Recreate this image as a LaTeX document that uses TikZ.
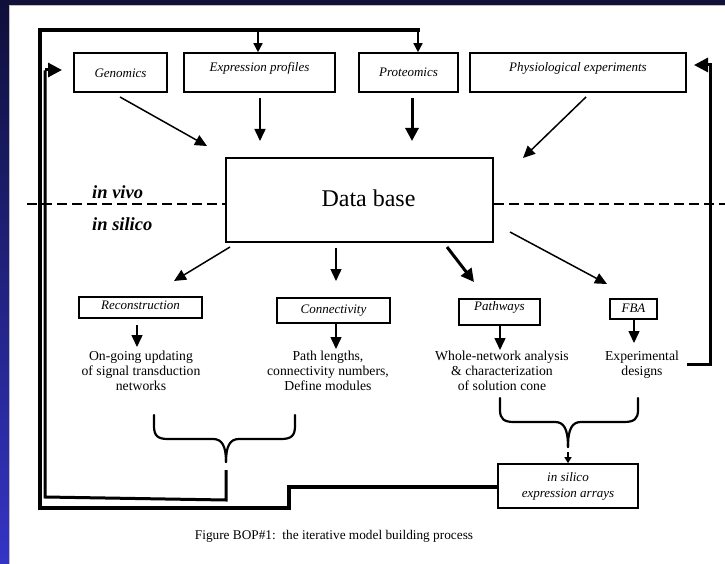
\documentclass[tikz,border=0pt]{standalone}
\usepackage{fontspec}
\setmainfont{Liberation Serif}
\usetikzlibrary{arrows.meta,calc}
\definecolor{navy}{HTML}{11113A}
\definecolor{navytop}{HTML}{0F0F3A}
\definecolor{bluebot}{HTML}{3434C6}
\begin{document}
\begin{tikzpicture}[x=1pt,y=-1pt,
  box/.style={draw, line width=1.6pt, inner sep=0pt, align=center,
    font=\fontsize{13}{15}\selectfont\itshape},
  txt/.style={inner sep=0pt, align=center, anchor=north,
    font=\fontsize{13.7}{15}\selectfont},
  arr/.style={line width=1.5pt, -{Triangle[length=12pt,width=11pt]}},
  bigarr/.style={line width=3pt, -{Triangle[length=13pt,width=13pt]}},
  smallarr/.style={line width=1.5pt, -{Triangle[length=9pt,width=9pt]}},
  tinyarr/.style={line width=1.2pt, -{Triangle[length=6pt,width=7pt]}},
  loopline/.style={line width=3.5pt, line join=miter},
  innerline/.style={line width=3pt, line join=miter},
  loopa/.style={line width=3pt, -{Triangle[length=14pt,width=14pt]}},
  bracel/.style={line width=2.2pt, line cap=round},
  dashline/.style={line width=1.8pt, dash pattern=on 10pt off 5pt},
  sidelbl/.style={anchor=base west, inner sep=0pt,
    font=\fontsize{18.5}{20}\selectfont\bfseries\itshape}
]
\useasboundingbox (0,0) rectangle (725,564);
\fill[white] (0,0) rectangle (725,564);
\shade[top color=navytop, bottom color=bluebot] (0,0) rectangle (9,564);
\fill[navy] (9,0) rectangle (725,5);
\draw[gray!50, line width=0.8pt] (9.5,564) -- (9.5,5.5) -- (725,5.5);

% top boxes
\node[box, minimum width=93pt, minimum height=39pt, text height=11pt, text depth=0pt] (gen) at (120.5,72.5) {Genomics};
\node[box, minimum width=151pt, minimum height=39pt, text height=8pt, text depth=9pt] (exp) at (259.5,72.5) {Expression profiles};
\node[box, minimum width=99pt, minimum height=39pt, text height=10pt, text depth=1pt] (prot) at (408.5,72.5) {Proteomics};
\node[box, minimum width=216pt, minimum height=39pt, text height=8pt, text depth=9pt] (phys) at (578,72.5) {Physiological experiments};

% data base
\node[draw, line width=1.6pt, inner sep=0pt, minimum width=267pt, minimum height=84pt,
  text height=16pt, text depth=2pt, font=\fontsize{24}{28}\selectfont] (db) at (359.5,200) {\hspace{18pt}Data base};

% dashed divider
\draw[dashline] (27,204) -- (db.west |- 0,204);
\draw[dashline] (db.east |- 0,204) -- (725,204);
\node[sidelbl] (vivo) at (92,198) {in vivo};
\node[sidelbl] (silico) at (92,230) {in silico};

% arrows into data base
\draw[arr] (120,97) -- (207,146);
\draw[arr] (260,98) -- (260,141);
\draw[bigarr] (412,98) -- (412,141);
\draw[arr] (586,97) -- (523,158);

% lower boxes
\node[box, minimum width=123pt, minimum height=21pt, text height=9pt, text depth=6pt] (rec) at (140.5,307.5) {Reconstruction};
\node[box, minimum width=113pt, minimum height=25pt, text height=9pt, text depth=4pt] (con) at (333.5,310.5) {Connectivity};
\node[box, minimum width=81pt, minimum height=26pt, text height=7pt, text depth=11pt] (path) at (499.5,312) {Pathways};
\node[box, minimum width=47pt, minimum height=20pt, text height=9pt, text depth=3pt] (fba) at (633.5,309) {FBA};

% arrows out of data base
\draw[arr] (230,247) -- (174,281);
\draw[arr] (336,248) -- (336,281);
\draw[bigarr] (447,247) -- (474,282);
\draw[arr] (510,232) -- (607,284);

% short arrows
\draw[arr] (137,325) -- (137,347);
\draw[arr] (336,0 |- con.south) -- (336,349);
\draw[arr] (500,0 |- path.south) -- (500,350);
\draw[arr] (634,0 |- fba.south) -- (634,343);

% text blocks
\node[txt] (t1) at (141,351) {On-going updating\\of signal transduction\\networks};
\node[txt] (t2) at (328,351) {Path lengths,\\connectivity numbers,\\Define modules};
\node[txt] (t3) at (502,351) {Whole-network analysis\\\&{} characterization\\of solution cone};
\node[txt] (t4) at (642,351) {Experimental\\designs};

% braces
\draw[bracel] (154,415) -- (154,426) .. controls (154,436) and (158,439) .. (168,439) -- (213,439) .. controls (222,439) and (226,446) .. (226,462);
\draw[bracel] (295,415) -- (295,426) .. controls (295,436) and (291,439) .. (281,439) -- (239,439) .. controls (230,439) and (226,446) .. (226,462);
\draw[bracel] (500,398) -- (500,410) .. controls (500,419) and (504,422) .. (514,422) -- (555,422) .. controls (564,422) and (568,429) .. (568,447);
\draw[bracel] (638,398) -- (638,410) .. controls (638,419) and (634,422) .. (624,422) -- (581,422) .. controls (572,422) and (568,429) .. (568,447);

% in silico box
\node[box, minimum width=140pt, minimum height=44pt, font=\fontsize{13}{16}\selectfont\itshape] (sil) at (568,486) {in silico\\expression arrays};
\draw[tinyarr] (568,452) -- (sil.north);

% outer feedback loop
\draw[loopline] (sil.west |- 0,487) -- (289,487) -- (289,508) -- (40,508) -- (40,30) -- (419.5,30);
\draw[smallarr] (418,30) -- (418,0 |- prot.north);
\draw[smallarr] (258,30) -- (258,0 |- exp.north);

% inner feedback loop
\draw[innerline] (226,470) -- (226,500) -- (45,497) -- (45,70.5);
\draw[loopa] (45,70) -- (62,70);

% right feedback loop
\draw[innerline] (687,364) -- (710,364) -- (710,63.5);
\draw[loopa] (710,65) -- (694,65);

% caption
\node[anchor=base, inner sep=0pt, font=\fontsize{13.3}{15}\selectfont] (cap) at (334,539) {Figure BOP\#1:\ \ the iterative model building process};
\end{tikzpicture}
\end{document}
